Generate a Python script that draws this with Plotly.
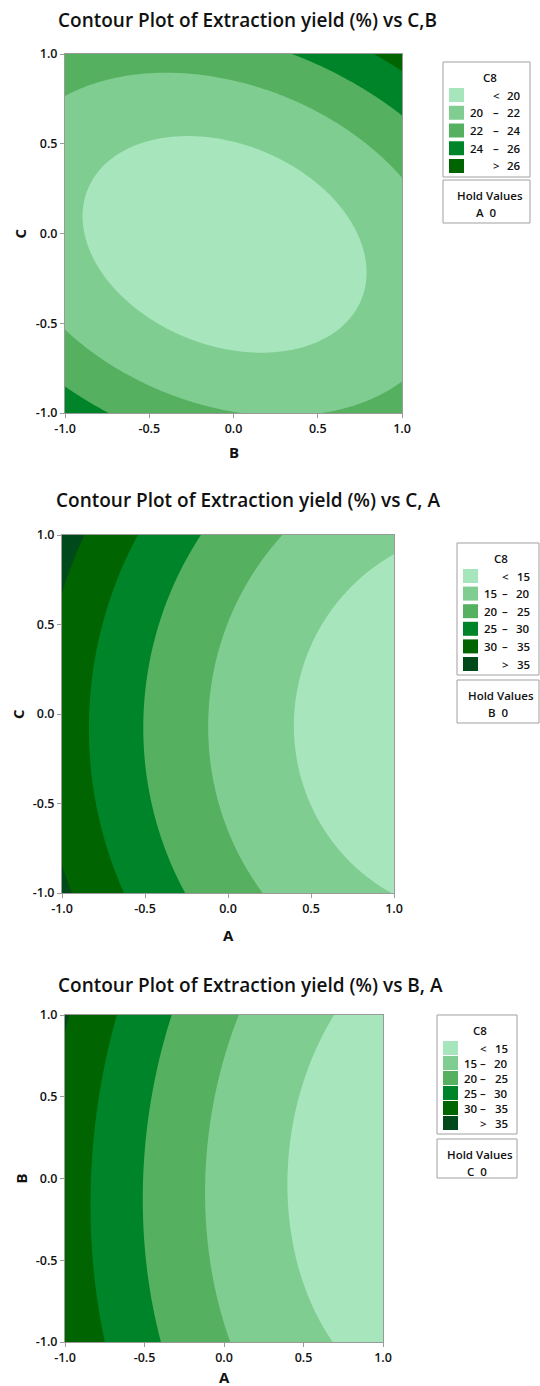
import numpy as np
import plotly.graph_objects as go

W, H = 540, 1386
FONT = "Open Sans"

# Fitted quadratic response-surface model for extraction yield (%), coded units
terms = ["const", "A", "B", "C", "A*A", "B*B", "C*C", "A*B", "A*C", "B*C"]
coefs = [18.7, -10.64, 0.30, 0.55, 3.43, 2.00, 3.90, -0.40, -0.10, 1.45]

# Contour levels and band colours
levels_cb = [20, 22, 24, 26]
levels_a = [15, 20, 25, 30, 35]
band_colors = ["#a7e5bd", "#80cd91", "#55b05f", "#008429", "#006400", "#00491a"]

tick_vals = [-1.0, -0.5, 0.0, 0.5, 1.0]
tick_text = ["-1.0", "-0.5", "0.0", "0.5", "1.0"]

# Panels: x factor, y factor, held factor, hold value, levels
panels = [
    dict(x="B", y="C", hold="A", hold_val=0, levels=levels_cb,
         title="Contour Plot of Extraction yield (%) vs C,B"),
    dict(x="A", y="C", hold="B", hold_val=0, levels=levels_a,
         title="Contour Plot of Extraction yield (%) vs C, A"),
    dict(x="A", y="B", hold="C", hold_val=0, levels=levels_a,
         title="Contour Plot of Extraction yield (%) vs B, A"),
]

# Pixel boxes for each panel: plot area, title, axis labels, legend
boxes = [
    dict(plot=(65, 402, 54, 413), title=(247, 20), xlab_y=452, ylab_x=20,
         leg=(443, 530, 62, 177), hold=(443, 530, 180, 223)),
    dict(plot=(62, 394, 535, 893), title=(248, 500), xlab_y=935, ylab_x=18,
         leg=(457, 539, 543, 675), hold=(457, 539, 680, 723)),
    dict(plot=(65, 383, 1015, 1342), title=(250, 985), xlab_y=1377, ylab_x=20,
         leg=(437, 517, 1015, 1134), hold=(437, 517, 1139, 1178)),
]


def px(x):
    return x / W


def py(y):
    return 1 - y / H


def label(text, x, y, font, xanchor="center", angle=0):
    return dict(text=text, x=px(x), y=py(y), xref="paper", yref="paper",
                xanchor=xanchor, yanchor="middle", textangle=angle,
                showarrow=False, font=font)


def yield_model(f):
    A, B, C = f["A"], f["B"], f["C"]
    basis = [np.ones_like(A), A, B, C, A * A, B * B, C * C, A * B, A * C, B * C]
    return sum(c * t for c, t in zip(coefs, basis))


def stepped_scale(colors):
    n = len(colors)
    scale = []
    for i, c in enumerate(colors):
        lo = 0 if i == 0 else (i - 0.5) / (n - 1)
        hi = 1 if i == n - 1 else (i + 0.5) / (n - 1)
        scale += [[lo, c], [hi, c]]
    return scale


fig = go.Figure()
shapes, annotations = [], []
grid = np.linspace(-1, 1, 241)
GX, GY = np.meshgrid(grid, grid)

title_font = dict(family=FONT, size=19, color="#111", weight=600)
axis_font = dict(family=FONT, size=15, color="#111", weight=700)
lfont = dict(family=FONT, size=11.5, color="#111", weight=600)

for k, (p, b) in enumerate(zip(panels, boxes)):
    factors = {p["x"]: GX, p["y"]: GY, p["hold"]: np.full_like(GX, p["hold_val"])}
    Z = yield_model(factors)
    lv = p["levels"]
    step = lv[1] - lv[0]
    cols = band_colors[: len(lv) + 1]
    xa = "x" if k == 0 else f"x{k + 1}"
    ya = "y" if k == 0 else f"y{k + 1}"
    fig.add_trace(go.Contour(
        x=grid, y=grid, z=Z, xaxis=xa, yaxis=ya,
        autocontour=False,
        contours=dict(start=lv[0], end=lv[-1], size=step, coloring="fill", showlines=False),
        line=dict(width=0),
        colorscale=stepped_scale(cols), showscale=False, hoverinfo="skip",
    ))

    x0, x1, y0, y1 = b["plot"]
    axis_common = dict(
        range=[-1, 1], tickvals=tick_vals, ticktext=tick_text,
        ticks="outside", ticklen=4, tickcolor="#9a9a9a", tickwidth=1,
        showline=True, linecolor="#9a9a9a", linewidth=1, mirror=True,
        showgrid=False, zeroline=False, automargin=False,
        tickfont=dict(family=FONT, size=12.5, color="#111", weight=600),
    )
    xkey = "xaxis" if k == 0 else f"xaxis{k + 1}"
    ykey = "yaxis" if k == 0 else f"yaxis{k + 1}"
    fig.update_layout({
        xkey: dict(domain=[px(x0), px(x1)], anchor=ya, **axis_common),
        ykey: dict(domain=[py(y1), py(y0)], anchor=xa, **axis_common),
    })

    # Title and axis labels
    tx, ty = b["title"]
    annotations.append(label(p["title"], tx, ty, title_font))
    annotations.append(label(p["x"], (x0 + x1) / 2, b["xlab_y"], axis_font))
    annotations.append(label(p["y"], b["ylab_x"], (y0 + y1) / 2, axis_font, angle=-90))

    # Legend box
    lx0, lx1, ly0, ly1 = b["leg"]
    shapes.append(dict(type="rect", xref="paper", yref="paper",
                       x0=px(lx0), x1=px(lx1), y0=py(ly1), y1=py(ly0),
                       line=dict(color="#a0a0a0", width=1), fillcolor="white"))
    annotations.append(label("C8", (lx0 + lx1) / 2 + 3, ly0 + 15, lfont))
    n = len(cols)
    first = ly0 + 33
    last = ly1 - 11
    dy = (last - first) / (n - 1)
    for i, c in enumerate(cols):
        cy = first + i * dy
        shapes.append(dict(type="rect", xref="paper", yref="paper",
                           x0=px(lx0 + 6), x1=px(lx0 + 21), y0=py(cy + 7), y1=py(cy - 7),
                           line=dict(width=0), fillcolor=c))
        if i == 0:
            lo, sym, hi = "", "<", str(lv[0])
        elif i == n - 1:
            lo, sym, hi = "", ">", str(lv[-1])
        else:
            lo, sym, hi = str(lv[i - 1]), "–", str(lv[i])
        if lo:
            annotations.append(label(lo, lx0 + 25, cy, lfont, xanchor="left"))
        annotations.append(label(sym, lx1 - 34, cy, lfont))
        annotations.append(label(hi, lx1 - 7, cy, lfont, xanchor="right"))

    # Hold values box
    hx0, hx1, hy0, hy1 = b["hold"]
    shapes.append(dict(type="rect", xref="paper", yref="paper",
                       x0=px(hx0), x1=px(hx1), y0=py(hy1), y1=py(hy0),
                       line=dict(color="#a0a0a0", width=1), fillcolor="white"))
    annotations.append(label("Hold Values", (hx0 + hx1) / 2 + 3, hy0 + 15, lfont))
    annotations.append(label(f"{p['hold']}  {p['hold_val']}", (hx0 + hx1) / 2, hy0 + 32, lfont))

fig.update_layout(
    width=W, height=H, margin=dict(l=0, r=0, t=0, b=0, pad=0, autoexpand=False),
    paper_bgcolor="white", plot_bgcolor="white",
    shapes=shapes, annotations=annotations, showlegend=False,
)

fig.write_html("out.html")
